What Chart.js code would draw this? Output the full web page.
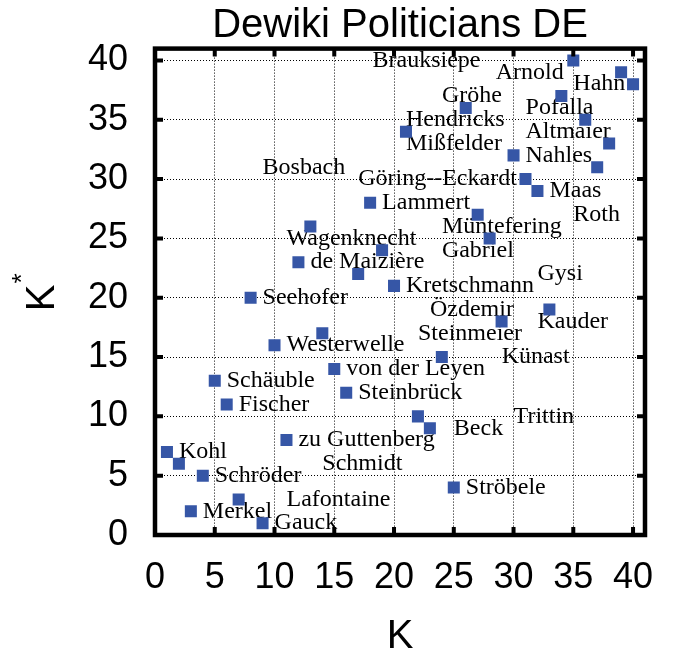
<!DOCTYPE html>
<html>
<head>
<meta charset="utf-8">
<script src="https://cdn.jsdelivr.net/npm/chart.js@4.4.1/dist/chart.umd.min.js"></script>
<style>
  html, body { margin: 0; padding: 0; background: #fff; }
  #wrap { width: 685px; height: 658px; }
</style>
</head>
<body>
<div id="wrap"><canvas id="rankChart" width="685" height="658"></canvas></div>
<script>
// squares: rank K (x) against rank K* (y)
const pointK = [1, 2, 3, 4, 5, 6, 7, 8, 9, 10, 11, 12, 13, 14, 15, 16, 17, 18, 19, 20,
                21, 22, 23, 24, 25, 26, 27, 28, 29, 30, 31, 32, 33, 34, 35, 36, 37, 38, 39, 40];
const pointKStar = [7, 6, 2, 5, 13, 11, 3, 20, 1, 16, 8, 23, 26, 17, 14, 12, 22, 28, 24, 21,
                    34, 10, 9, 15, 4, 36, 27, 25, 18, 32, 30, 29, 19, 37, 40, 35, 31, 33, 39, 38];

// names and the (K, K*) spot each name is written next to
const names = ['Brauksiepe', 'Arnold', 'Hahn', 'Gröhe', 'Pofalla', 'Hendricks', 'Altmaier', 'Mißfelder',
               'Nahles', 'Bosbach', 'Göring--Eckardt', 'Maas', 'Lammert', 'Roth', 'Müntefering',
               'Wagenknecht', 'Gabriel', 'de Maizière', 'Gysi', 'Kretschmann', 'Seehofer', 'Özdemir',
               'Kauder', 'Steinmeier', 'Westerwelle', 'Künast', 'von der Leyen', 'Schäuble', 'Steinbrück',
               'Fischer', 'Trittin', 'Beck', 'zu Guttenberg', 'Kohl', 'Schmidt', 'Schröder', 'Ströbele',
               'Lafontaine', 'Merkel', 'Gauck'];
const labelK = [17.2, 27.5, 34, 23, 30, 20, 30, 20, 30, 8, 16, 32, 18, 34, 23, 10, 23, 12, 31, 20,
                8, 22, 31, 21, 10, 28, 15, 5, 16, 6, 29, 24, 11, 1, 13, 4, 25, 10, 3, 9];
const labelKStar = [40, 39, 38, 37, 36, 35, 34, 33, 32, 31, 30, 29, 28, 27, 26, 25, 24, 23, 22, 21,
                    20, 19, 18, 17, 16, 15, 14, 13, 12, 11, 10, 9, 8, 7, 6, 5, 4, 3, 2, 1];

const axisTicks = [0, 5, 10, 15, 20, 25, 30, 35, 40];

const sansFont = 'Liberation Sans, Arial, sans-serif';
const serifFont = 'Liberation Serif, Times New Roman, serif';

const nameLabels = {
    id: 'nameLabels',
    beforeDatasetsDraw(chart) {
        const { ctx, scales: { x, y } } = chart;
        ctx.save();
        ctx.font = '24px ' + serifFont;
        ctx.fillStyle = '#000';
        ctx.textAlign = 'left';
        ctx.textBaseline = 'middle';
        names.forEach((n, i) => {
            ctx.fillText(n, x.getPixelForValue(labelK[i]) + 12, y.getPixelForValue(labelKStar[i]));
        });
        ctx.restore();
    }
};

// gnuplot style frame with inward ticks on all four sides
const frame = {
    id: 'frame',
    afterDatasetsDraw(chart) {
        const { ctx, chartArea: a, scales: { x, y } } = chart;
        ctx.save();
        ctx.strokeStyle = '#000';
        ctx.lineWidth = 4;
        ctx.beginPath();
        axisTicks.forEach(v => {
            const px = x.getPixelForValue(v);
            ctx.moveTo(px, a.bottom); ctx.lineTo(px, a.bottom - 8);
            ctx.moveTo(px, a.top); ctx.lineTo(px, a.top + 8);
            const py = y.getPixelForValue(v);
            ctx.moveTo(a.left, py); ctx.lineTo(a.left + 8, py);
            ctx.moveTo(a.right, py); ctx.lineTo(a.right - 8, py);
        });
        ctx.stroke();
        ctx.lineWidth = 4.5;
        ctx.strokeRect(a.left, a.top, a.right - a.left, a.bottom - a.top);
        ctx.restore();
    }
};

const yTitle = {
    id: 'yTitle',
    afterDraw(chart) {
        const { ctx, chartArea: a } = chart;
        ctx.save();
        ctx.translate(43, (a.top + a.bottom) / 2 + 6);
        ctx.rotate(-Math.PI / 2);
        ctx.fillStyle = '#000';
        ctx.font = '40px ' + sansFont;
        ctx.textAlign = 'center';
        ctx.textBaseline = 'middle';
        ctx.fillText('K', 0, 0);
        const w = ctx.measureText('K').width;
        ctx.font = '26px ' + sansFont;
        ctx.textAlign = 'left';
        ctx.fillText('*', w / 2 + 1, -20);
        ctx.restore();
    }
};

const ctx = document.getElementById('rankChart').getContext('2d');
new Chart(ctx, {
    type: 'scatter',
    data: {
        datasets: [{
            data: pointK.map((k, i) => ({ x: k, y: pointKStar[i] })),
            pointStyle: 'rect',
            pointRadius: 8.5,
            pointHoverRadius: 8.5,
            backgroundColor: '#3656a6',
            borderWidth: 0
        }]
    },
    options: {
        responsive: false,
        animation: false,
        devicePixelRatio: 1,
        events: [],
        layout: { padding: { left: 0, right: 40, top: 0, bottom: 0 } },
        scales: {
            x: {
                type: 'linear',
                min: 0,
                max: 41,
                afterFit: s => { s.height = 123; },
                ticks: {
                    stepSize: 5,
                    includeBounds: false,
                    padding: 21,
                    color: '#000',
                    font: { family: sansFont, size: 36 },
                    callback: v => axisTicks.includes(v) ? v : ''
                },
                grid: { color: '#000', lineWidth: 1, drawTicks: false },
                border: { display: false, dash: [1, 2] },
                title: {
                    display: true,
                    text: 'K',
                    color: '#000',
                    font: { family: sansFont, size: 40 },
                    padding: { top: 0, bottom: -3 }
                }
            },
            y: {
                type: 'linear',
                min: 0,
                max: 41,
                afterFit: s => { s.width = 155; },
                ticks: {
                    stepSize: 5,
                    includeBounds: false,
                    padding: 27,
                    color: '#000',
                    font: { family: sansFont, size: 36 },
                    callback: v => axisTicks.includes(v) ? v : ''
                },
                grid: { color: '#000', lineWidth: 1, drawTicks: false },
                border: { display: false, dash: [1, 2] }
            }
        },
        plugins: {
            legend: { display: false },
            tooltip: { enabled: false },
            title: {
                display: true,
                fullSize: false,
                text: 'Dewiki Politicians DE',
                color: '#000',
                font: { family: sansFont, size: 40, weight: 'normal' },
                padding: { top: 0, bottom: -1 }
            }
        }
    },
    plugins: [nameLabels, frame, yTitle]
});
</script>
</body>
</html>
